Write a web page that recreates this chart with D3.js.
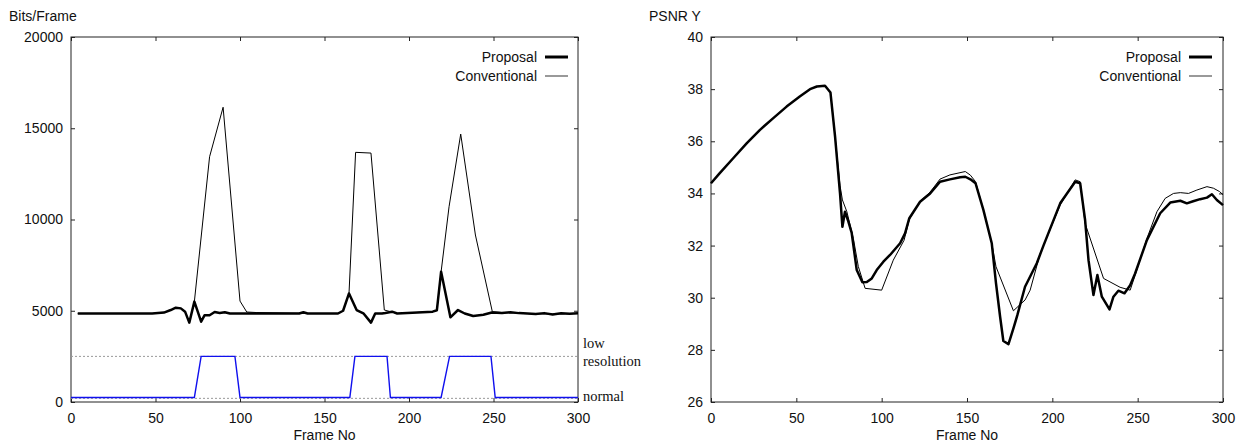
<!DOCTYPE html>
<html>
<head>
<meta charset="utf-8">
<script src="https://cdn.jsdelivr.net/npm/d3@7"></script>
<style>
  body { margin: 0; background: #fff; }
  svg text { font-family: "Liberation Sans", Arial, sans-serif; }
</style>
</head>
<body>
<svg id="canvas"></svg>
<script>
// ---- left panel: bits per frame ----
const bitsPropFrames = [4, 48, 55, 59, 62, 65, 67.5, 70, 73, 77, 79, 82, 85, 88, 91, 94, 100, 135, 137.5, 140, 158, 161, 164.5, 169, 173, 177.5, 180, 184, 186, 190, 193, 214, 216.5, 219, 224.5, 229, 233, 238, 244, 249, 255, 260, 265, 270, 275, 280, 285, 290, 295, 300];
const bitsPropValues = [4850, 4850, 4900, 5040, 5170, 5130, 4950, 4350, 5500, 4400, 4750, 4750, 4930, 4880, 4920, 4850, 4850, 4850, 4920, 4850, 4850, 5000, 5950, 5040, 4860, 4350, 4850, 4850, 4880, 4950, 4850, 4950, 5030, 7140, 4640, 5040, 4850, 4710, 4780, 4900, 4880, 4920, 4870, 4850, 4820, 4870, 4800, 4860, 4830, 4860];

const bitsConvFrames = [4, 48, 55, 59, 62, 65, 67.5, 70, 73, 82, 90, 100, 104, 110, 140, 158, 161, 164.5, 168.4, 177.5, 185.4, 189, 193, 214, 216.5, 219, 223.7, 230.6, 239.3, 249.3, 255, 265, 275, 285, 300];
const bitsConvValues = [4850, 4850, 4900, 5040, 5170, 5130, 4950, 4350, 5500, 13440, 16150, 5530, 4930, 4900, 4850, 4850, 5000, 5950, 13680, 13640, 5040, 4950, 4850, 4950, 5030, 7140, 10700, 14680, 9150, 4950, 4900, 4870, 4830, 4820, 4850];

// resolution mode (blue)
const resFrames = [0, 73, 77, 97, 100, 165, 168, 187, 189, 219, 224, 248.5, 251, 300];
const resValues = [250, 250, 2500, 2500, 250, 250, 2500, 2500, 250, 250, 2500, 2500, 250, 250];
const resLevels = [2500, 200];
const resLabels = [['low', 'resolution'], ['normal']];

const bitsTicks = [0, 5000, 10000, 15000, 20000];

// ---- right panel: PSNR Y ----
const psnrPropFrames = [0, 5, 13, 21, 28.7, 36.5, 44.3, 52, 58, 62, 66.8, 70, 72.7, 75.6, 77, 78.5, 80.5, 82.4, 85.4, 88.7, 91.3, 94.2, 97.1, 101, 104.9, 110.8, 113.7, 116.2, 122.5, 128.4, 134.2, 140, 146, 149, 152, 155, 159.6, 164.5, 167, 169.4, 171.3, 174.3, 177.2, 179.5, 184, 190.9, 194.8, 204.6, 213.4, 216.3, 219.2, 221.2, 224.1, 226.4, 229, 233.5, 235.8, 238.7, 242.3, 245.6, 248.5, 255.4, 263.2, 269.1, 275, 278.8, 282.5, 286.6, 290.6, 293.5, 296.4, 300];
const psnrPropValues = [34.39, 34.77, 35.35, 35.93, 36.44, 36.89, 37.33, 37.72, 38.0, 38.1, 38.13, 37.87, 36.18, 34.0, 32.72, 33.3, 32.92, 32.5, 31.06, 30.59, 30.6, 30.74, 31.06, 31.38, 31.64, 32.09, 32.47, 33.05, 33.68, 34.0, 34.45, 34.54, 34.62, 34.64, 34.54, 34.39, 33.37, 32.09, 30.55, 29.27, 28.34, 28.22, 28.82, 29.33, 30.42, 31.32, 32.0, 33.62, 34.45, 34.39, 32.98, 31.44, 30.1, 30.87, 30.04, 29.55, 30.04, 30.27, 30.17, 30.48, 30.93, 32.21, 33.24, 33.65, 33.72, 33.62, 33.7, 33.78, 33.84, 33.97, 33.75, 33.55];

const psnrConvFrames = [0, 5, 13, 21, 28.7, 36.5, 44.3, 52, 58, 62, 66.8, 70, 72.7, 75.6, 77, 79.6, 83.4, 86.3, 90.3, 100, 106.8, 113.1, 116.2, 122.5, 128.4, 134.2, 140, 149, 152, 155, 159.6, 164.5, 167, 177.2, 184, 187, 192.9, 204.6, 213.4, 216.3, 219.2, 230, 239.7, 245.6, 248.5, 255.4, 261.3, 266.1, 271, 275, 279.8, 284.7, 290.6, 294.4, 298, 300];
const psnrConvValues = [34.39, 34.77, 35.35, 35.93, 36.44, 36.89, 37.33, 37.72, 38.0, 38.1, 38.13, 37.87, 36.18, 34.3, 33.75, 33.3, 32.28, 31.2, 30.36, 30.29, 31.44, 32.2, 33.0, 33.7, 34.05, 34.55, 34.71, 34.84, 34.7, 34.45, 33.37, 32.09, 31.19, 29.5, 29.91, 30.29, 31.7, 33.55, 34.52, 34.45, 32.85, 30.74, 30.4, 30.29, 30.86, 32.27, 33.3, 33.81, 34.0, 34.03, 34.0, 34.13, 34.26, 34.2, 34.07, 33.95];

const psnrTicks = [26, 28, 30, 32, 34, 36, 38, 40];

const frameTicks = [0, 50, 100, 150, 200, 250, 300];
const seriesNames = ['Proposal', 'Conventional'];

let width = 1247;
let height = 448;
let plotTop = 37;
let plotBottom = 402;

let canvas = d3.select('#canvas')
    .attr('width', width)
    .attr('height', height);

function zip (frames, values) {
    return frames.map((f, i) => [f, values[i]]);
}

function drawPanel (opt) {
    let xScale = d3.scaleLinear().domain([0, 300]).range([opt.left, opt.right]);
    let yScale = d3.scaleLinear().domain(opt.yDomain).range([plotBottom, plotTop]);

    let g = canvas.append('g');

    // axes, ticks pointing inward on all sides
    let xAxis = d3.axisBottom(xScale).tickValues(frameTicks)
        .tickFormat(d3.format('d')).tickSize(-4).tickPadding(11);
    g.append('g').attr('transform', 'translate(0,' + plotBottom + ')').call(xAxis);
    g.append('g').attr('transform', 'translate(0,' + plotTop + ')')
        .call(d3.axisTop(xScale).tickValues(frameTicks).tickSize(-4).tickFormat(''));

    let yAxis = d3.axisLeft(yScale).tickValues(opt.yTicks)
        .tickFormat(d3.format('d')).tickSize(-4).tickPadding(8);
    g.append('g').attr('transform', 'translate(' + opt.left + ',0)').call(yAxis);
    g.append('g').attr('transform', 'translate(' + opt.right + ',0)')
        .call(d3.axisRight(yScale).tickValues(opt.yTicks).tickSize(-4).tickFormat(''));

    g.selectAll('.domain').remove();
    g.selectAll('.tick line').attr('stroke', '#222');
    g.selectAll('.tick text').attr('font-size', 14).attr('fill', '#111')
        .style('font-family', '"Liberation Sans", Arial, sans-serif');

    // frame box
    g.append('rect')
        .attr('x', opt.left).attr('y', plotTop)
        .attr('width', opt.right - opt.left).attr('height', plotBottom - plotTop)
        .attr('fill', 'none').attr('stroke', '#222').attr('stroke-width', 1);

    if (opt.extra) opt.extra(g, xScale, yScale);

    let line = d3.line().x(d => xScale(d[0])).y(d => yScale(d[1]));

    g.append('path').datum(opt.conv)
        .attr('d', line).attr('fill', 'none')
        .attr('stroke', '#000').attr('stroke-width', 1).attr('stroke-linejoin', 'round');
    g.append('path').datum(opt.prop)
        .attr('d', line).attr('fill', 'none')
        .attr('stroke', '#000').attr('stroke-width', 2.5).attr('stroke-linejoin', 'round');

    // legend
    let lx = opt.legendX;
    seriesNames.forEach((name, i) => {
        let ly = 57 + i * 19;
        g.append('text').attr('x', lx).attr('y', ly + 5)
            .attr('text-anchor', 'end').attr('font-size', 14).attr('fill', '#111')
            .text(name);
        g.append('line')
            .attr('x1', lx + 8).attr('x2', lx + 31)
            .attr('y1', ly).attr('y2', ly)
            .attr('stroke', i === 0 ? '#000' : '#555')
            .attr('stroke-width', i === 0 ? 3 : 1.2);
    });

    // axis titles
    g.append('text').attr('x', opt.titleX).attr('y', 21)
        .attr('font-size', 14).attr('fill', '#111').text(opt.title);
    g.append('text').attr('x', (opt.left + opt.right) / 2).attr('y', 440)
        .attr('text-anchor', 'middle').attr('font-size', 14).attr('fill', '#111')
        .text('Frame No');
}

drawPanel({
    left: 71, right: 578,
    yDomain: [0, 20000], yTicks: bitsTicks,
    prop: zip(bitsPropFrames, bitsPropValues),
    conv: zip(bitsConvFrames, bitsConvValues),
    legendX: 537, title: 'Bits/Frame', titleX: 9,
    extra: (g, xScale, yScale) => {
        resLevels.forEach((lv) => {
            g.append('line')
                .attr('x1', xScale(0)).attr('x2', xScale(300))
                .attr('y1', yScale(lv)).attr('y2', yScale(lv))
                .attr('stroke', '#999').attr('stroke-width', 1)
                .attr('stroke-dasharray', '2,2');
        });
        let blue = d3.line().x(d => xScale(d[0])).y(d => yScale(d[1]));
        g.append('path').datum(zip(resFrames, resValues))
            .attr('d', blue).attr('fill', 'none')
            .attr('stroke', '#1010ee').attr('stroke-width', 1.4);
        // labels for resolution levels
        let serif = '"Liberation Serif", "Times New Roman", serif';
        g.append('text').attr('x', 583).attr('y', 348)
            .attr('font-size', 14.5).style('font-family', serif)
            .attr('fill', '#111').text(resLabels[0][0]);
        g.append('text').attr('x', 583).attr('y', 365.5)
            .attr('font-size', 14.5).style('font-family', serif)
            .attr('fill', '#111').text(resLabels[0][1]);
        g.append('text').attr('x', 583).attr('y', 400.5)
            .attr('font-size', 14.5).style('font-family', serif)
            .attr('fill', '#111').text(resLabels[1][0]);
    }
});

drawPanel({
    left: 711, right: 1223,
    yDomain: [26, 40], yTicks: psnrTicks,
    prop: zip(psnrPropFrames, psnrPropValues),
    conv: zip(psnrConvFrames, psnrConvValues),
    legendX: 1181, title: 'PSNR Y', titleX: 649
});
</script>
</body>
</html>
